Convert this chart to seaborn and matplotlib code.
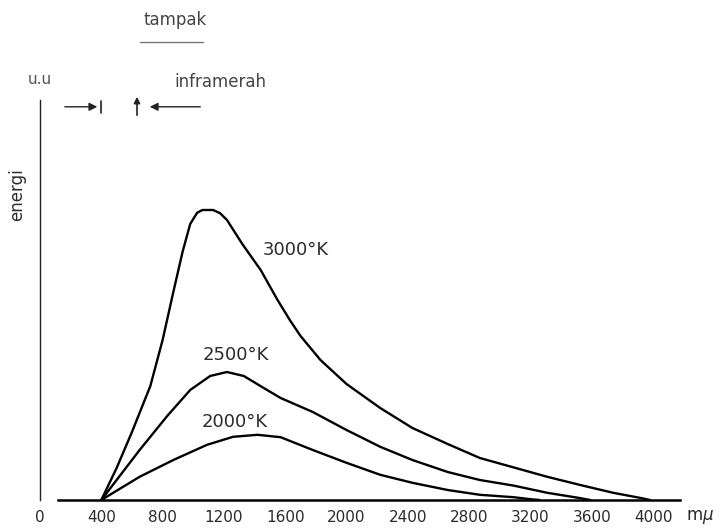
import pandas as pd
import numpy as np
import matplotlib
matplotlib.use('Agg')
import matplotlib.pyplot as plt
import seaborn as sns

# panjang gelombang (m mikron) dan energi (satuan relatif)
x_3000 = [400, 500, 600, 720, 800, 870, 930, 980, 1025, 1060, 1130, 1175, 1220, 1320,
          1440, 1550, 1630, 1700, 1830, 2000, 2220, 2430, 2660, 2870, 3310, 3520,
          3740, 3920, 3980]
y_3000 = [0, 0.8, 1.7, 2.85, 4.0, 5.2, 6.2, 6.9, 7.18, 7.25, 7.25, 7.17, 7.0, 6.4,
          5.75, 5.0, 4.5, 4.1, 3.5, 2.9, 2.3, 1.8, 1.4, 1.05, 0.58, 0.38,
          0.18, 0.05, 0]

x_2500 = [400, 650, 830, 980, 1110, 1220, 1330, 1460, 1570, 1780, 2000, 2220, 2430,
          2660, 2870, 3090, 3310, 3520, 3590]
y_2500 = [0, 1.25, 2.1, 2.75, 3.1, 3.2, 3.1, 2.8, 2.55, 2.2, 1.75, 1.33, 1.0,
          0.7, 0.5, 0.36, 0.18, 0.05, 0]

x_2000 = [400, 650, 870, 1090, 1260, 1420, 1570, 1780, 2000, 2220, 2430, 2660, 2870,
          3090, 3200, 3260]
y_2000 = [0, 0.58, 1.0, 1.38, 1.58, 1.63, 1.57, 1.25, 0.93, 0.63, 0.43, 0.25, 0.13,
          0.07, 0.02, 0]

suhu = ['3000°K', '2500°K', '2000°K']
x_ticks = [0, 400, 800, 1200, 1600, 2000, 2400, 2800, 3200, 3600, 4000]
tick_labels = [str(t) for t in x_ticks]

# long-form table for seaborn
df = pd.concat([
    pd.DataFrame({'lambda': x, 'energi': y, 'suhu': s})
    for x, y, s in zip([x_3000, x_2500, x_2000], [y_3000, y_2500, y_2000], suhu)
], ignore_index=True)

sns.set_style('white')
plt.rcParams['font.family'] = ['DejaVu Sans']
txt = '#2b2b2b'

fig = plt.figure(figsize=(7.21, 5.32), dpi=100)
ax = fig.add_axes([40 / 721, 32 / 532, 640 / 721, 400 / 532])

sns.lineplot(data=df, x='lambda', y='energi', hue='suhu', units='suhu',
             estimator=None, sort=False, legend=False,
             palette={s: 'black' for s in suhu}, linewidth=1.7, ax=ax)
for line in ax.lines:
    line.set_solid_joinstyle('round')

ax.set_xlim(0, 4176)
ax.set_ylim(0, 10)
ax.set_xlabel('')
ax.set_ylabel('')
ax.set_yticks([])
ax.set_xticks(x_ticks)
ax.set_xticklabels(tick_labels)
ax.tick_params(axis='x', direction='in', length=5, width=1, pad=7,
               labelsize=11, labelcolor=txt, color='#333333')

for side in ['top', 'right']:
    ax.spines[side].set_visible(False)
ax.spines['left'].set_color('#222222')
ax.spines['left'].set_linewidth(1.0)
ax.spines['bottom'].set_color('black')
ax.spines['bottom'].set_linewidth(1.8)
ax.spines['bottom'].set_bounds(117, 4176)

# curve labels
label_pos = {'3000°K': (1455, 6.25), '2500°K': (1064, 3.63), '2000°K': (1057, 1.95)}
for s in suhu:
    ax.text(*label_pos[s], s, ha='left', va='center', fontsize=13, color=txt)

# unit and axis title
ax.text(4307, -0.42, 'm$\\mu$', ha='center', va='center', fontsize=12,
        color=txt, clip_on=False)
fig.text(17 / 721, 1 - 195 / 532, 'energi', rotation=90, ha='center',
         va='center', fontsize=12, color=txt)

# spectrum region markers above the plot
ax.text(0, 10.5, 'u.u', ha='center', va='center', fontsize=11, color='#555555', clip_on=False)
ax.annotate('', xy=(392, 9.83), xytext=(144, 9.83), annotation_clip=False,
            arrowprops=dict(arrowstyle='-|>', color='#222222', lw=1.0, mutation_scale=12))
ax.plot([400, 400], [9.68, 9.98], color='#222222', lw=1.2, clip_on=False)
ax.annotate('', xy=(633, 10.15), xytext=(633, 9.55), annotation_clip=False,
            arrowprops=dict(arrowstyle='-|>', color='#222222', lw=1.2, mutation_scale=9))
ax.annotate('', xy=(698, 9.83), xytext=(1064, 9.83), annotation_clip=False,
            arrowprops=dict(arrowstyle='-|>', color='#222222', lw=1.0, mutation_scale=12))
ax.text(880, 10.45, 'inframerah', ha='left', va='center', fontsize=12,
        color='#444444', clip_on=False)
ax.text(880, 12.0, 'tampak', ha='center', va='center', fontsize=12,
        color='#444444', clip_on=False)
ax.plot([652, 1064], [11.45, 11.45], color='#777777', lw=1.0, clip_on=False)

fig.savefig('out.png', dpi=100)
plt.close(fig)
